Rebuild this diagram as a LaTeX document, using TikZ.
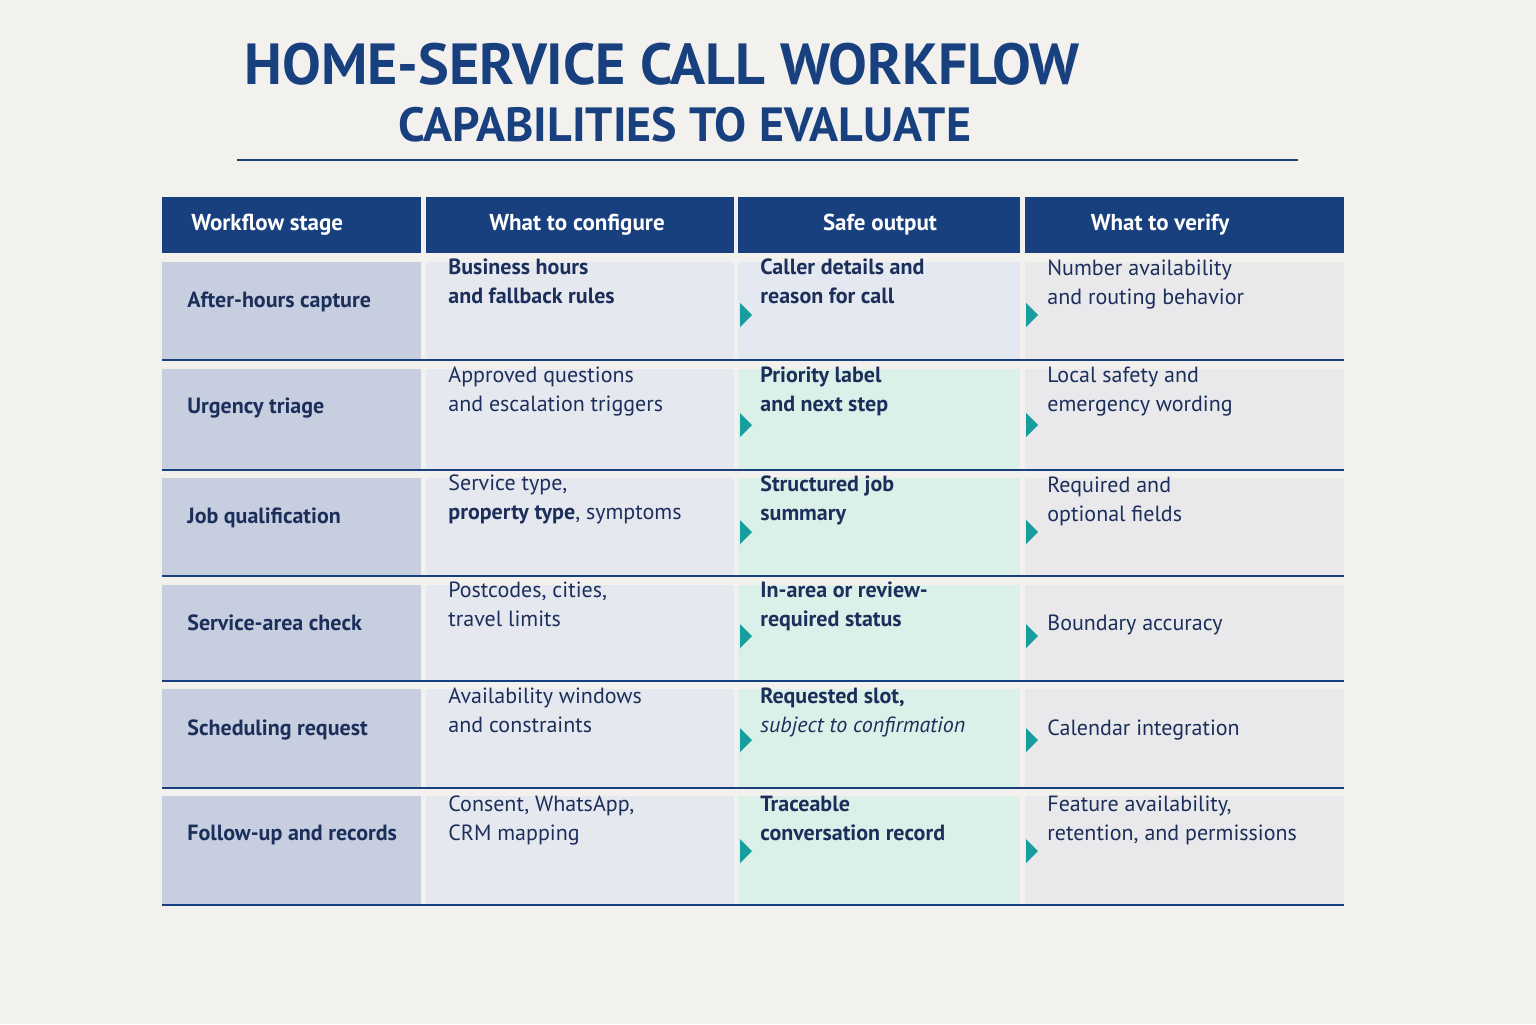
\documentclass[tikz,border=0pt]{standalone}
\usepackage{fontspec}
\setmainfont{PT Sans}
\begin{document}
\definecolor{bg}{HTML}{F3F1EE}
\definecolor{navy}{HTML}{183F7E}
\definecolor{ink}{HTML}{1B2F5A}
\definecolor{cA}{HTML}{C6CEE0}
\definecolor{cB}{HTML}{E6E8F0}
\definecolor{cC}{HTML}{DCF0EA}
\definecolor{cCa}{HTML}{E4E8F0}
\definecolor{cD}{HTML}{E9E9EC}
\definecolor{teal}{HTML}{169E9E}
\begin{tikzpicture}[x=0.5pt,y=-0.5pt,
  txt/.style={anchor=base west,align=left,inner sep=0pt,text=ink,font=\fontsize{11}{14.5}\selectfont},
  hd/.style={anchor=center,inner sep=0pt,text=white,font=\fontsize{11.5}{14}\selectfont\bfseries},
  tri/.style={fill=teal,draw=none}]
\useasboundingbox (0,0) rectangle (1536,1024);
\fill[bg] (0,0) rectangle (1536,1024);
\node[anchor=base,inner sep=0pt,text=navy,font=\fontsize{29}{32}\selectfont\bfseries] (t1) at (662,84) {HOME-SERVICE CALL WORKFLOW};
\node[anchor=base,inner sep=0pt,text=navy,font=\fontsize{24}{28}\selectfont\bfseries] (t2) at (685,141) {CAPABILITIES TO EVALUATE};
\draw[navy,line width=0.8pt] (237,160) -- (1298,160);
% headers
\foreach \a/\b/\t [count=\i] in {162/421/Workflow stage,426/734/What to configure,738/1020/Safe output,1025/1344/What to verify}{
  \fill[navy] (\a,197) rectangle (\b,253);
}
\node[hd,anchor=west] (h1) at (191,225) {Workflow stage};
\node[hd] (h2) at (577,225) {What to configure};
\node[hd] (h3) at (880,225) {Safe output};
\node[hd] (h4) at (1160,225) {What to verify};
% rows
\foreach \t/\bt [count=\r] in {262/360,369/470,478/576,585/681,689/788,796/905}{
  \fill[cA] (162,\t) rectangle (421,\bt);
  \fill[cB] (426,\t) rectangle (734,\bt);
  \ifnum\r=1 \fill[cCa] (738,\t) rectangle (1020,\bt); \else \fill[cC] (738,\t) rectangle (1020,\bt); \fi
  \fill[cD] (1025,\t) rectangle (1344,\bt);
  \draw[navy,line width=0.7pt] (162,\bt) -- (1344,\bt);
}
\foreach \y in {315,425,532,636,740,851}{
  \fill[tri] (740,\y-12) -- (752,\y) -- (740,\y+12) -- cycle;
  \fill[tri] (1026,\y-12) -- (1038,\y) -- (1026,\y+12) -- cycle;
}
% column 1
\node[txt,font=\fontsize{11}{14.5}\selectfont\bfseries] (a1) at (187,307) {After-hours capture};
\node[txt,font=\fontsize{11}{14.5}\selectfont\bfseries] (a2) at (187,413) {Urgency triage};
\node[txt,font=\fontsize{11}{14.5}\selectfont\bfseries] (a3) at (187,523) {Job qualification};
\node[txt,font=\fontsize{11}{14.5}\selectfont\bfseries] (a4) at (187,630) {Service-area check};
\node[txt,font=\fontsize{11}{14.5}\selectfont\bfseries] (a5) at (187,735) {Scheduling request};
\node[txt,font=\fontsize{11}{14.5}\selectfont\bfseries] (a6) at (187,840) {Follow-up and records};
% column 2
\node[txt,font=\fontsize{11}{14.5}\selectfont\bfseries] (b1) at (448,303) {Business hours\\and fallback rules};
\node[txt] (b2) at (448,411) {Approved questions\\and escalation triggers};
\node[txt] (b3) at (448,519) {Service type,\\\textbf{property type}, symptoms};
\node[txt] (b4) at (448,626) {Postcodes, cities,\\travel limits};
\node[txt] (b5) at (448,732) {Availability windows\\and constraints};
\node[txt] (b6) at (448,840) {Consent, WhatsApp,\\CRM mapping};
% column 3
\node[txt,font=\fontsize{11}{14.5}\selectfont\bfseries] (c1) at (760,303) {Caller details and\\reason for call};
\node[txt,font=\fontsize{11}{14.5}\selectfont\bfseries] (c2) at (760,411) {Priority label\\and next step};
\node[txt,font=\fontsize{11}{14.5}\selectfont\bfseries] (c3) at (760,520) {Structured job\\summary};
\node[txt,font=\fontsize{11}{14.5}\selectfont\bfseries] (c4) at (760,626) {In-area or review-\\required status};
\node[txt,font=\fontsize{11}{14.5}\selectfont\bfseries] (c5) at (760,732) {Requested slot,\\\mdseries\itshape subject to confirmation};
\node[txt,font=\fontsize{11}{14.5}\selectfont\bfseries] (c6) at (760,840) {Traceable\\conversation record};
% column 4
\node[txt] (d1) at (1047,304) {Number availability\\and routing behavior};
\node[txt] (d2) at (1047,411) {Local safety and\\emergency wording};
\node[txt] (d3) at (1047,521) {Required and\\optional fields};
\node[txt] (d4) at (1047,630) {Boundary accuracy};
\node[txt] (d5) at (1047,735) {Calendar integration};
\node[txt] (d6) at (1047,840) {Feature availability,\\retention, and permissions};
\end{tikzpicture}
\end{document}
